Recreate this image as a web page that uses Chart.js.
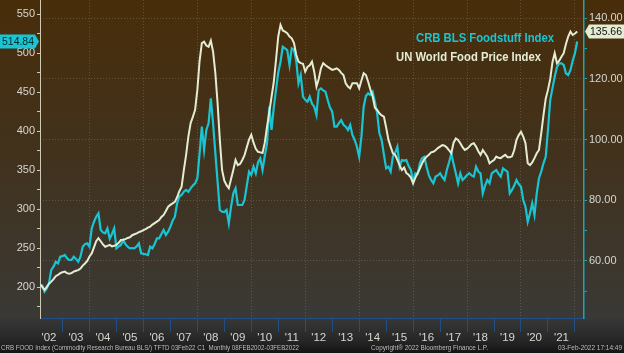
<!DOCTYPE html>
<html>
<head>
<meta charset="utf-8">
<script src="https://cdn.jsdelivr.net/npm/chart.js@4.4.1/dist/chart.umd.min.js"></script>
<style>
    html, body { margin: 0; padding: 0; background: #161616; }
    #wrap { position: relative; width: 624px; height: 353px; }
</style>
</head>
<body>
<div id="wrap"><canvas id="foodChart" width="624" height="353"></canvas></div>
<script>
// CRB BLS Foodstuff vs UN (FAO) World Food Price Index, monthly Feb 2002 - Jan 2022

const firstYear = 2002;
const firstMonth = 2;   // February

// CRB BLS Foodstuff Index (left axis), one value per month
const crbFood = [
    202.6, 202.0, 194.0, 198.0, 205.0, 221.8, 226.0, 232.4, 230.3, 238.8, 239.5, 241.0,
    237.0, 234.6, 234.6, 238.8, 236.0, 232.4, 238.8, 251.7, 255.0, 256.0, 251.7, 275.0,
    283.7, 290.1, 294.5, 273.1, 270.0, 268.8, 275.0, 262.0, 268.0, 275.2, 249.6, 252.0,
    253.8, 260.3, 255.0, 251.7, 249.6, 250.0, 249.6, 252.0, 256.0, 243.2, 242.5, 242.0,
    241.0, 251.7, 249.6, 255.0, 262.4, 262.4, 268.0, 273.1, 266.7, 271.0, 277.3, 285.0,
    290.1, 307.3, 316.0, 318.0, 322.2, 324.4, 322.0, 326.5, 330.0, 332.9, 339.4, 371.3,
    405.5, 375.6, 401.3, 409.8, 441.9, 409.8, 372.0, 335.0, 298.7, 296.6, 296.0, 298.7,
    281.6, 303.0, 320.0, 326.5, 305.1, 305.1, 305.1, 311.5, 330.0, 347.8, 343.6, 354.3,
    345.8, 360.0, 365.0, 350.0, 368.0, 384.2, 431.2, 401.3, 430.0, 452.6, 475.0, 488.8,
    508.0, 506.0, 503.8, 484.6, 506.0, 504.0, 490.0, 461.2, 471.8, 444.0, 440.0, 437.6,
    444.0, 435.0, 431.2, 420.5, 452.6, 454.7, 452.0, 450.4, 439.7, 430.0, 424.8, 405.5,
    405.5, 410.0, 414.0, 408.0, 405.5, 401.3, 407.7, 395.0, 388.5, 379.9, 367.0, 392.7,
    431.2, 445.0, 448.3, 446.2, 450.4, 437.6, 422.7, 397.0, 388.5, 370.0, 352.1, 354.3,
    347.8, 367.0, 372.0, 379.9, 354.3, 362.8, 362.0, 362.8, 355.0, 350.0, 335.0, 345.8,
    345.0, 358.6, 365.0, 367.0, 354.3, 343.0, 337.2, 332.9, 341.5, 343.0, 345.8, 341.0,
    337.2, 350.0, 360.0, 371.4, 358.0, 345.8, 332.9, 345.8, 337.2, 340.0, 343.6, 345.8,
    343.0, 341.5, 354.3, 348.0, 345.8, 320.1, 330.0, 337.2, 332.9, 345.8, 348.0, 350.0,
    345.0, 341.5, 352.2, 350.0, 347.8, 320.1, 324.4, 330.0, 337.2, 332.0, 328.6, 311.5,
    303.0, 283.7, 294.5, 307.3, 292.3, 320.1, 339.4, 348.0, 358.6, 367.0, 401.3, 439.7,
    455.0, 469.6, 482.0, 486.8, 486.8, 484.6, 474.0, 471.8, 478.0, 490.0, 499.6, 514.84
];

// UN World Food Price Index (right axis), one value per month
const unFood = [
    52.3, 51.5, 50.5, 51.5, 52.5, 53.2, 54.0, 55.0, 55.4, 56.0, 56.3, 56.5,
    56.0, 55.8, 56.0, 56.5, 56.8, 57.0, 57.5, 58.5, 59.2, 60.0, 61.5, 62.5,
    64.5, 66.5, 67.5, 66.5, 65.5, 64.7, 65.0, 65.3, 64.8, 65.0, 65.3, 66.0,
    66.9, 67.0, 67.2, 67.6, 67.8, 68.5, 68.8, 69.1, 69.5, 69.8, 70.2, 70.5,
    71.0, 71.3, 72.0, 72.5, 73.0, 73.5, 74.5, 75.2, 76.5, 77.9, 78.5, 79.0,
    79.5, 81.0, 83.0, 84.5, 90.0, 95.0, 101.0, 105.4, 107.5, 109.8, 116.4, 126.0,
    131.8, 132.3, 131.0, 130.6, 132.6, 129.0, 122.0, 112.0, 100.0, 90.0, 86.5, 85.0,
    84.0, 87.0, 90.0, 93.3, 91.6, 92.0, 93.3, 94.9, 97.5, 100.0, 101.6, 99.0,
    97.0, 96.0, 95.8, 95.6, 99.0, 104.3, 109.0, 114.0, 119.0, 126.3, 134.0, 137.8,
    136.0, 135.6, 135.1, 134.0, 133.4, 131.8, 128.0, 125.7, 125.2, 125.0, 122.4, 124.0,
    124.5, 125.7, 122.4, 117.5, 120.0, 123.5, 125.2, 124.5, 124.0, 123.5, 123.0, 123.2,
    123.5, 123.0, 122.0, 121.3, 118.6, 117.5, 116.9, 118.6, 118.6, 118.6, 116.9, 119.5,
    121.9, 121.3, 119.1, 116.5, 114.2, 110.5, 109.8, 108.7, 108.0, 107.6, 104.0, 100.0,
    97.7, 95.5, 95.0, 93.3, 91.5, 90.0, 90.8, 89.0, 88.4, 87.5, 85.6, 87.5,
    88.9, 90.5, 92.2, 93.5, 94.4, 95.0, 95.8, 96.0, 96.5, 97.2, 97.7, 98.2,
    98.0, 97.4, 96.5, 95.5, 99.0, 100.4, 99.9, 98.8, 97.5, 96.6, 97.0, 97.7,
    98.5, 98.8, 97.7, 96.2, 95.0, 96.6, 95.5, 94.4, 92.2, 92.8, 93.3, 94.4,
    94.0, 93.9, 94.5, 95.0, 94.2, 94.2, 94.5, 96.6, 99.9, 101.5, 102.6, 101.0,
    98.8, 92.2, 91.6, 92.5, 93.9, 95.5, 96.6, 102.1, 108.0, 113.5, 116.4, 120.0,
    125.5, 128.5, 125.2, 126.0, 127.3, 128.5, 131.5, 134.0, 135.6, 134.5, 135.0, 135.66
];

// Axis ticks
const leftTicks = [175, 200, 225, 250, 275, 300, 325, 350, 375, 400, 425, 450, 475, 500, 525, 550];
const rightTicks = [50, 60, 70, 80, 90, 100, 110, 120, 130, 140];
const yearLabels = ["'02", "'03", "'04", "'05", "'06", "'07", "'08", "'09", "'10", "'11",
                    "'12", "'13", "'14", "'15", "'16", "'17", "'18", "'19", "'20", "'21"];

const lastCrb = '514.84';
const lastUn = '135.66';

const colors = {
    crb: '#19c5d3',
    un: '#e4edd3',
    text: '#d6d6cf',
    grid: 'rgba(170, 160, 140, 0.32)',
    tickBlue: '#1f4f86',
    rightAxis: '#16a9b5',
    leftAxis: '#cfcab4'
};

const font = "'Liberation Sans', Arial, sans-serif";

// month index -> position in years (plotted at the end of each month)
function monthPos(i) {
    return firstYear + (firstMonth + i) / 12;
}

const backdrop = {
    id: 'backdrop',
    beforeDraw(chart) {
        const { ctx, chartArea } = chart;
        ctx.save();
        const g = ctx.createLinearGradient(0, 0, 0, chartArea.bottom);
        g.addColorStop(0, '#482d0a');
        g.addColorStop(0.5, '#41321d');
        g.addColorStop(1, '#3a3936');
        ctx.fillStyle = g;
        ctx.fillRect(0, 0, chart.width, chartArea.bottom);
        const g2 = ctx.createLinearGradient(0, chartArea.bottom, 0, chart.height);
        g2.addColorStop(0, '#383838');
        g2.addColorStop(0.65, '#262626');
        g2.addColorStop(1, '#141414');
        ctx.fillStyle = g2;
        ctx.fillRect(0, chartArea.bottom, chart.width, chart.height - chartArea.bottom);
        ctx.restore();
    }
};

const overlay = {
    id: 'overlay',
    afterDraw(chart) {
        const { ctx } = chart;
        ctx.save();

        // series names
        ctx.textBaseline = 'alphabetic';
        ctx.font = 'bold 12px ' + font;
        ctx.fillStyle = colors.crb;
        ctx.fillText('CRB BLS Foodstuff Index', 416, 42, 138);
        ctx.fillStyle = colors.un;
        ctx.fillText('UN World Food Price Index', 396, 61, 145);

        // last value tags
        ctx.font = '11px ' + font;
        ctx.textBaseline = 'middle';
        const yl = chart.scales.yL.getPixelForValue(parseFloat(lastCrb));
        ctx.fillStyle = colors.crb;
        ctx.beginPath();
        ctx.moveTo(0, yl - 7);
        ctx.lineTo(35, yl - 7);
        ctx.lineTo(39, yl);
        ctx.lineTo(35, yl + 7);
        ctx.lineTo(0, yl + 7);
        ctx.closePath();
        ctx.fill();
        ctx.fillStyle = '#06282c';
        ctx.fillText(lastCrb, 2, yl + 0.5, 32);

        const yr = chart.scales.yR.getPixelForValue(parseFloat(lastUn));
        ctx.fillStyle = colors.un;
        ctx.beginPath();
        ctx.moveTo(585, yr);
        ctx.lineTo(589, yr - 7);
        ctx.lineTo(624, yr - 7);
        ctx.lineTo(624, yr + 7);
        ctx.lineTo(589, yr + 7);
        ctx.closePath();
        ctx.fill();
        ctx.fillStyle = '#111';
        ctx.fillText(lastUn, 590, yr + 0.5, 32);

        // footer
        ctx.font = '7px ' + font;
        ctx.fillStyle = '#bdbdbd';
        ctx.fillText('CRB FOOD Index (Commodity Research Bureau BLS/) TFTD 03Feb22 C1  Monthly 08FEB2002-03FEB2022', 1, 348, 298);
        ctx.fillText('Copyright\u00ae 2022 Bloomberg Finance L.P.', 371, 348, 117);
        ctx.fillText('03-Feb-2022 17:14:49', 558, 348, 64);

        ctx.restore();
    }
};

function buildChart() {
    const ctx = document.getElementById('foodChart').getContext('2d');

    const crbPoints = crbFood.map((v, i) => ({ x: monthPos(i), y: v }));
    const unPoints = unFood.map((v, i) => ({ x: monthPos(i), y: v }));

    new Chart(ctx, {
        type: 'line',
        data: {
            datasets: [{
                label: 'UN World Food Price Index',
                data: unPoints,
                yAxisID: 'yR',
                borderColor: colors.un,
                borderWidth: 2,
                pointRadius: 0,
                tension: 0
            }, {
                label: 'CRB BLS Foodstuff Index',
                data: crbPoints,
                yAxisID: 'yL',
                borderColor: colors.crb,
                borderWidth: 2.2,
                pointRadius: 0,
                tension: 0
            }]
        },
        options: {
            responsive: false,
            animation: false,
            devicePixelRatio: 1,
            layout: { padding: 0 },
            plugins: {
                legend: { display: false },
                tooltip: { enabled: false }
            },
            scales: {
                x: {
                    type: 'linear',
                    min: 2002.166,
                    max: 2022.336,
                    afterBuildTicks(axis) {
                        axis.ticks = yearLabels.map((_, i) => ({ value: firstYear + 1 + i }));
                    },
                    afterFit(axis) {
                        axis.height = 35;
                        axis.paddingLeft = 0;
                        axis.paddingRight = 0;
                    },
                    grid: {
                        color: (c) => (c.tick && c.tick.value % 2 === 0) ? colors.grid : 'rgba(0,0,0,0)',
                        lineWidth: 1,
                        drawTicks: true,
                        tickLength: 14,
                        tickColor: colors.tickBlue,
                        tickWidth: 1
                    },
                    border: { color: colors.tickBlue, width: 1, dash: [1, 2] },
                    ticks: {
                        autoSkip: false,
                        maxRotation: 0,
                        padding: -1,
                        labelOffset: -13.5,
                        color: colors.text,
                        font: { family: font, size: 11.5 },
                        callback: (value) => yearLabels[value - firstYear - 1]
                    }
                },
                yL: {
                    type: 'linear',
                    position: 'left',
                    min: 160.26,
                    max: 567.95,
                    afterBuildTicks(axis) {
                        axis.ticks = leftTicks.map(v => ({ value: v }));
                    },
                    afterFit(axis) {
                        axis.width = 40;
                        axis.paddingTop = 0;
                        axis.paddingBottom = 0;
                    },
                    grid: {
                        drawOnChartArea: false,
                        drawTicks: true,
                        tickLength: 3,
                        tickColor: colors.leftAxis
                    },
                    border: { color: colors.leftAxis, width: 1 },
                    ticks: {
                        padding: 2,
                        color: colors.text,
                        font: { family: font, size: 11 },
                        callback: (value) => value % 50 === 0 ? String(value) : ''
                    }
                },
                yR: {
                    type: 'linear',
                    position: 'right',
                    min: 41.21,
                    max: 146.03,
                    afterBuildTicks(axis) {
                        axis.ticks = rightTicks.map(v => ({ value: v }));
                    },
                    afterFit(axis) {
                        axis.width = 40;
                        axis.paddingTop = 0;
                        axis.paddingBottom = 0;
                    },
                    grid: {
                        color: (c) => (c.tick && c.tick.value % 20 === 0) ? colors.grid : 'rgba(0,0,0,0)',
                        drawTicks: true,
                        tickLength: 3,
                        tickColor: colors.rightAxis
                    },
                    border: { color: colors.rightAxis, width: 1.5, dash: [1, 2] },
                    ticks: {
                        padding: 2,
                        color: colors.text,
                        font: { family: font, size: 11 },
                        callback: (value) => value % 20 === 0 ? value.toFixed(2) : ''
                    }
                }
            }
        },
        plugins: [backdrop, overlay]
    });
}

document.addEventListener('DOMContentLoaded', buildChart);
</script>
</body>
</html>
